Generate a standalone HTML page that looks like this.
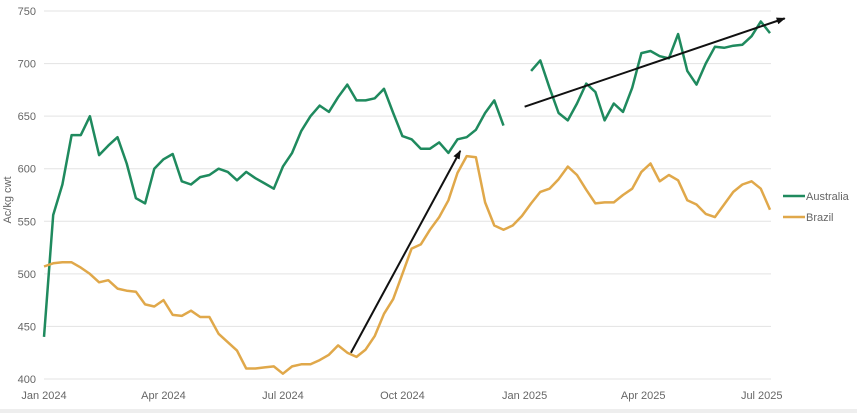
<!DOCTYPE html>
<html><head><meta charset="utf-8"><style>
body{margin:0;background:#fff;font-family:"Liberation Sans",sans-serif;}
svg text{font-family:"Liberation Sans",sans-serif;fill:#666;font-size:11px;}
</style></head><body>
<svg id="chart" width="857" height="413" viewBox="0 0 857 413" xmlns="http://www.w3.org/2000/svg">
<defs><marker id="ah" markerUnits="userSpaceOnUse" markerWidth="9" markerHeight="7" refX="8" refY="3.5" orient="auto"><path d="M0,0 L9,3.5 L0,7 Z" fill="#111"/></marker></defs>
<g id="grid"></g><g id="yticks"></g><g id="xticks"></g><g id="series"></g><g id="ann"></g>
<text transform="translate(11,200) rotate(-90)" text-anchor="middle">Ac/kg cwt</text>
<g>
<line x1="783" y1="196" x2="805" y2="196" stroke="#1f8a5e" stroke-width="2.5"/>
<text x="806" y="200">Australia</text>
<line x1="783" y1="217" x2="805" y2="217" stroke="#e0a84a" stroke-width="2.5"/>
<text x="806" y="221">Brazil</text>
</g>
<rect x="0" y="409" width="857" height="4" fill="#eee"/>
</svg>
<script>
const yTicks=[400,450,500,550,600,650,700,750];
const xTickLabels=["Jan 2024","Apr 2024","Jul 2024","Oct 2024","Jan 2025","Apr 2025","Jul 2025"];
const xTickWeeks=[0,13,26,39,52.3,65.2,78.1];
const australia=[440,556,585,632,632,650,613,622,630,605,572,567,600,609,614,588,585,592,594,600,597,589,597,591,586,581,602,615,636,650,660,654,668,680,665,665,667,676,653,631,628,619,619,625,615,628,630,637,653,665,641,null,null,693,703,677,653,646,662,681,673,646,662,654,677,710,712,707,705,728,693,680,700,716,715,717,718,726,740,729];
const brazil=[507,510,511,511,506,500,492,494,486,484,483,471,469,475,461,460,465,459,459,443,435,427,410,410,411,412,405,412,414,414,418,423,432,425,421,428,441,462,476,500,524,528,542,554,570,596,612,611,568,546,542,546,555,567,578,581,590,602,594,580,567,568,568,575,581,597,605,588,594,589,570,566,557,554,566,578,585,588,581,561];
const arrowsData=[[33.4,425,45.3,617],[52.3,659,80.6,743]];
const X=i=>44+i*9.19, Y=v=>379-(v-400)*1.0514;
const NS="http://www.w3.org/2000/svg";
function mk(t,a,p){const e=document.createElementNS(NS,t);for(const k in a)e.setAttribute(k,a[k]);p.appendChild(e);return e;}
const grid=document.getElementById('grid'),yt=document.getElementById('yticks'),xt=document.getElementById('xticks'),ser=document.getElementById('series'),ann=document.getElementById('ann');
yTicks.forEach(v=>{
 const l=mk('line',{x1:44,x2:771,y1:Y(v),y2:Y(v),stroke:'#e3e3e3','stroke-width':1},grid);
 
 
 const t=mk('text',{x:36,y:Y(v)+4,'text-anchor':'end'},yt);t.textContent=v;
 
 
});
xTickLabels.forEach((s,i)=>{
 const t=mk('text',{x:X(xTickWeeks[i]),y:399,'text-anchor':'middle'},xt);t.textContent=s;
 
 
});
function draw(arr,color,name){
 let d='',pen=false;
 arr.forEach((v,i)=>{if(v==null){pen=false;return;}d+=(pen?'L':'M')+X(i).toFixed(1)+','+Y(v).toFixed(1);pen=true;});
 const p=mk('path',{d:d,fill:'none',stroke:color,'stroke-width':2.5,'stroke-linejoin':'round'},ser);
 
 
}
draw(australia,'#1f8a5e','australia-line');
draw(brazil,'#e0a84a','brazil-line');
arrowsData.forEach((a,i)=>{
 const l=mk('line',{x1:X(a[0]),y1:Y(a[1]),x2:X(a[2]),y2:Y(a[3]),stroke:'#111','stroke-width':2,'marker-end':'url(#ah)'},ann);
 
 
});
</script>
</body></html>
